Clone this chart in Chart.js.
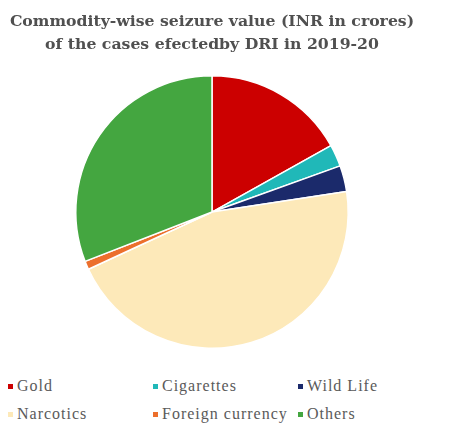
<!DOCTYPE html>
<html>
<head>
<meta charset="utf-8">
<script src="https://cdn.jsdelivr.net/npm/chart.js@4/dist/chart.umd.min.js"></script>
<style>
    html, body { margin: 0; padding: 0; background: #fff; }
    #wrap { position: relative; width: 463px; height: 430px; overflow: hidden; }
    #box { position: absolute; left: 0; top: 0; width: 424px; height: 360px; }
    #legend { position: absolute; left: 8px; top: 376px; display: grid; grid-template-columns: 145px 145px 145px; row-gap: 8px; }
    #legend div { display: flex; align-items: center; height: 20px; font: 16px "Liberation Serif", serif; letter-spacing: 1px; color: #5a5a5a; white-space: nowrap; }
    #legend span { display: inline-block; width: 5px; height: 5px; margin-right: 4px; }
</style>
</head>
<body>
<div id="wrap">
    <div id="box"><canvas id="c"></canvas></div>
    <div id="legend"></div>
</div>
<script>
const titleLines = ['Commodity-wise seizure value (INR in crores)', 'of the cases efectedby DRI in 2019-20'];
const commodities = ['Gold', 'Cigarettes', 'Wild Life', 'Narcotics', 'Foreign currency', 'Others'];
const shares = [16.9, 2.6, 3.1, 45.5, 1.0, 30.9];
const colours = ['#cc0000', '#20b8b8', '#1b2a6b', '#fde9b9', '#ec6f2c', '#44a640'];

new Chart(document.getElementById('c'), {
    type: 'pie',
    data: {
        labels: commodities,
        datasets: [{ data: shares, backgroundColor: colours, borderColor: '#fff', borderWidth: 1.5 }],
    },
    options: {
        responsive: true,
        maintainAspectRatio: false,
        animation: false,
        layout: { padding: { left: 0, right: 0, top: 0, bottom: 11 } },
        plugins: {
            legend: { display: false },
            tooltip: { enabled: false },
            title: {
                display: true,
                text: titleLines,
                color: '#505050',
                font: { family: '"DejaVu Serif", serif', size: 15.7, weight: 'bold', lineHeight: 1.5 },
                padding: { top: 10, bottom: 18 },
                align: 'center',
            },
        },
    },
});

const legend = document.getElementById('legend');
commodities.forEach((name, i) => {
    const item = document.createElement('div');
    const mark = document.createElement('span');
    mark.style.background = colours[i];
    item.appendChild(mark);
    item.appendChild(document.createTextNode(name));
    legend.appendChild(item);
});
</script>
</body>
</html>
